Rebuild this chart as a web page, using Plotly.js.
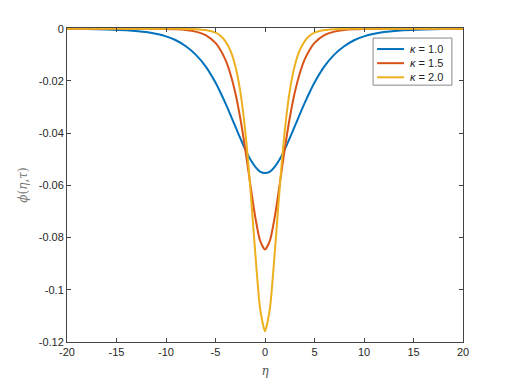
<!DOCTYPE html>
<html>
<head>
<meta charset="utf-8">
<script src="https://cdn.plot.ly/plotly-3.0.1.min.js"></script>
<style>
  html, body { margin: 0; padding: 0; background: #fff; }
  #plot { width: 512px; height: 384px; }
</style>
</head>
<body>
<div id="plot"></div>
<script>
// eta samples shared by all three curves
let eta = [-20, -18, -16, -14, -12, -10, -9, -8, -7, -6, -5, -4.5, -4, -3.5, -3, -2.5, -2, -1.5, -1, -0.5, 0,
           0.5, 1, 1.5, 2, 2.5, 3, 3.5, 4, 4.5, 5, 6, 7, 8, 9, 10, 12, 14, 16, 18, 20]

// phi values for each kappa
let phiK10 = [-0.00004, -0.0001, -0.00023, -0.00053, -0.00126, -0.0029, -0.0044, -0.0067, -0.0099, -0.0144, -0.0206,
              -0.0244, -0.0285, -0.0329, -0.0374, -0.0419, -0.0462, -0.0499, -0.0528, -0.0547, -0.0553,
              -0.0547, -0.0528, -0.0499, -0.0462, -0.0419, -0.0374, -0.0329, -0.0285, -0.0244, -0.0206,
              -0.0144, -0.0099, -0.0067, -0.0044, -0.0029, -0.00126, -0.00053, -0.00023, -0.0001, -0.00004]
let phiK15 = [0, 0, 0, -0.00001, -0.00002, -0.00009, -0.00021, -0.00048, -0.0011, -0.0024, -0.0054,
              -0.0081, -0.0118, -0.0172, -0.0245, -0.0342, -0.0460, -0.0592, -0.0718, -0.0811, -0.0846,
              -0.0811, -0.0718, -0.0592, -0.0460, -0.0342, -0.0245, -0.0172, -0.0118, -0.0081, -0.0054,
              -0.0024, -0.0011, -0.00048, -0.00021, -0.00009, -0.00002, -0.00001, 0, 0, 0]
let phiK20 = [0, 0, 0, 0, 0, 0, -0.00002, -0.00005, -0.00016, -0.0005, -0.0015,
              -0.0027, -0.0048, -0.0083, -0.0143, -0.0239, -0.0390, -0.0601, -0.0851, -0.1070, -0.1159,
              -0.1070, -0.0851, -0.0601, -0.0390, -0.0239, -0.0143, -0.0083, -0.0048, -0.0027, -0.0015,
              -0.0005, -0.00016, -0.00005, -0.00002, 0, 0, 0, 0, 0, 0]

let seriesNames = ["<i>κ</i> = 1.0", "<i>κ</i> = 1.5", "<i>κ</i> = 2.0"]
let seriesColors = ["#0072BD", "#D95319", "#EDB120"]

// tick labels with plain hyphens like the original
let xTicks = [-20, -15, -10, -5, 0, 5, 10, 15, 20]
let xTickText = ["-20", "-15", "-10", "-5", "0", "5", "10", "15", "20"]
let yTicks = [0, -0.02, -0.04, -0.06, -0.08, -0.1, -0.12]
let yTickText = ["0", "-0.02", "-0.04", "-0.06", "-0.08", "-0.1", "-0.12"]

let allPhi = [phiK10, phiK15, phiK20]
let data = []
for (var i = 0; i < allPhi.length; i++)
{
    data.push({
        x: eta,
        y: allPhi[i],
        name: seriesNames[i],
        type: "scatter",
        mode: "lines",
        showlegend: false,
        line: { color: seriesColors[i], width: 2, shape: "spline", smoothing: 0.6 }
    })
}

// compact legend box drawn by hand (plotly's legend rows are too tall)
let legendRowsY = [0.933, 0.888, 0.843]
let shapes = [{
    type: "rect", xref: "paper", yref: "paper",
    x0: 0.773, x1: 0.972, y0: 0.818, y1: 0.968,
    line: { color: "#888", width: 1 }, fillcolor: "#fff", layer: "above"
}]
let annotations = []
for (var j = 0; j < seriesNames.length; j++)
{
    shapes.push({
        type: "line", xref: "paper", yref: "paper",
        x0: 0.783, x1: 0.851, y0: legendRowsY[j], y1: legendRowsY[j],
        line: { color: seriesColors[j], width: 2 }, layer: "above"
    })
    annotations.push({
        xref: "paper", yref: "paper", x: 0.862, y: legendRowsY[j],
        xanchor: "left", yanchor: "middle", showarrow: false,
        text: seriesNames[j], font: { size: 11, color: "#262626" }
    })
}

let axisColor = "#444"

let layout = {
    width: 512,
    height: 384,
    paper_bgcolor: "#fff",
    plot_bgcolor: "#fff",
    font: { family: "Liberation Sans, Arial, sans-serif", size: 11, color: "#262626" },
    margin: { l: 67, r: 49, t: 28, b: 42, pad: 0 },
    showlegend: false,
    shapes: shapes,
    annotations: annotations,
    xaxis: {
        range: [-20, 20],
        tickvals: xTicks,
        ticktext: xTickText,
        ticks: "inside",
        ticklen: 4,
        tickcolor: axisColor,
        showline: true,
        linecolor: axisColor,
        linewidth: 1,
        mirror: "ticks",
        showgrid: false,
        zeroline: false,
        title: { text: "<i>η</i>", font: { family: "DejaVu Serif, serif", size: 12, color: "#555" }, standoff: 9 }
    },
    yaxis: {
        range: [-0.12, 0.0003],
        tickvals: yTicks,
        ticktext: yTickText,
        ticks: "inside",
        ticklen: 4,
        tickcolor: axisColor,
        showline: true,
        linecolor: axisColor,
        linewidth: 1,
        mirror: "ticks",
        showgrid: false,
        zeroline: false,
        title: { text: "<i>ϕ</i>(<i>η</i>,<i>τ</i>)", font: { family: "DejaVu Serif, serif", size: 12, color: "#777" }, standoff: 8 }
    }
}

Plotly.newPlot("plot", data, layout, { displayModeBar: false, staticPlot: true })
</script>
</body>
</html>
